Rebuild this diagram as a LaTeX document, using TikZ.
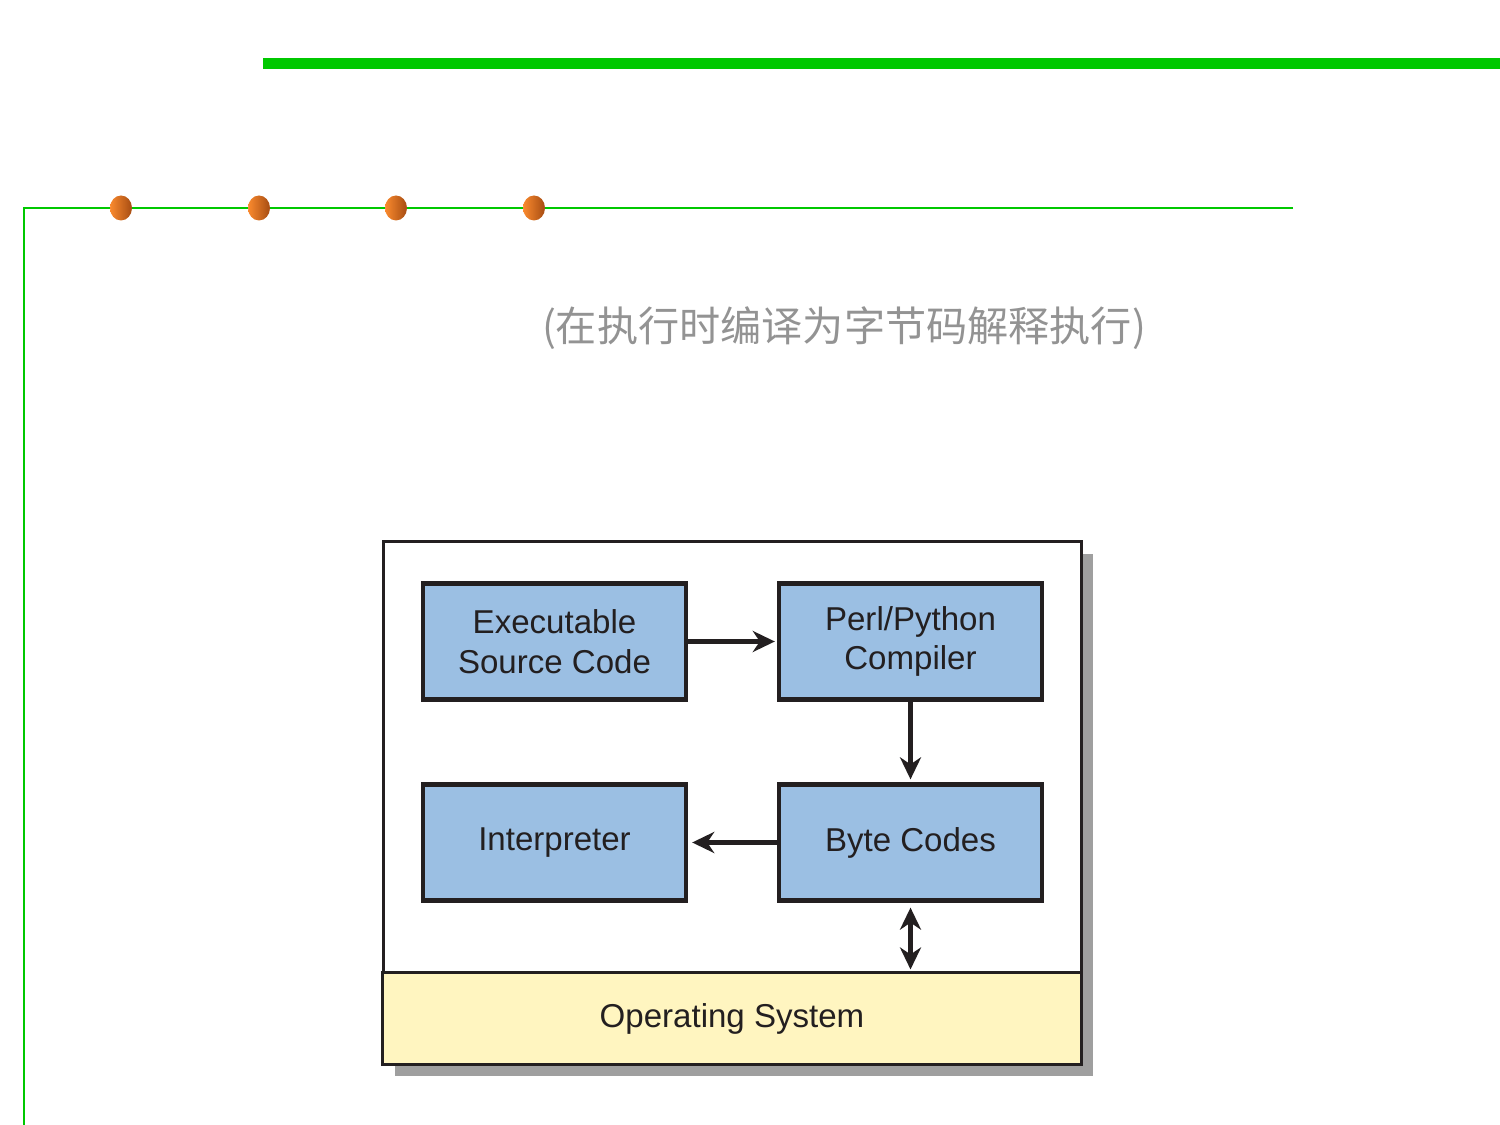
\documentclass[tikz,border=0pt]{standalone}
\usepackage{fontspec}
\setmainfont{Liberation Sans}
\newfontfamily\cjk{Noto Sans CJK SC}
\usetikzlibrary{arrows.meta, positioning}
\definecolor{barGreen}{HTML}{00C800}
\definecolor{boxBlue}{HTML}{9BBFE3}
\definecolor{osYellow}{HTML}{FFF5C0}
\definecolor{inkDark}{HTML}{231F20}
\definecolor{dotLight}{HTML}{FA8A2E}
\definecolor{dotDark}{HTML}{A64C12}
\tikzset{
  stage/.style={draw=inkDark, fill=boxBlue, line width=0.042cm, minimum width=2.63cm,
    minimum height=1.16cm, align=center, text=inkDark, font=\fontsize{9.4}{11.3}\selectfont},
  flow/.style={draw=inkDark, line width=0.042cm, -{Stealth[length=0.22cm, width=0.21cm, inset=0.07cm]}},
}

\begin{document}
\begin{tikzpicture}[x=0.01cm, y=-0.01cm]
\useasboundingbox (0,0) rectangle (1500,1125);
% green rules
\draw[barGreen, line width=0.11cm] (263,63.5) -- (1500,63.5);
\draw[barGreen, line width=0.02cm] (1293,208) -- (24,208) -- (24,1125);
\foreach \x in {121,259,396,534}
  \shade[left color=dotLight, right color=dotDark] (\x,208) ellipse (11 and 12.5);
\node[text=gray!85, font=\cjk\fontsize{11.7}{13}\selectfont] (title) at (844,328) {(在执行时编译为字节码解释执行)};
% outer frame
\fill[gray!75] (395,554) rectangle (1093,1076);
\draw[inkDark, fill=white, line width=0.03cm] (383,542) rectangle (1081,1064);
\node[draw=inkDark, fill=osYellow, line width=0.03cm, minimum width=6.98cm, minimum height=0.91cm,
  text=inkDark, font=\fontsize{9.4}{11.3}\selectfont] (os) at (732,1018.5) {Operating System};
\node[stage] (src) at (554.5,641.5) {Executable\\Source Code};
\node[stage] (comp) at (910.5,641.5) {Perl/Python\\Compiler};
\node[stage] (interp) at (554.5,842.5) {Interpreter};
\node[stage] (bytes) at (910.5,842.5) {Byte Codes};
\draw[flow, shorten >=0.02cm] (src) -- (comp);
\draw[flow, shorten >=0.03cm] (comp) -- (bytes);
\draw[flow, shorten >=0.04cm] (bytes) -- (interp);
\draw[flow, {Stealth[length=0.22cm, width=0.21cm, inset=0.07cm]}-{Stealth[length=0.22cm, width=0.21cm, inset=0.07cm]},
  shorten <=0.05cm, shorten >=0.02cm] (bytes.south) -- (bytes.south |- os.north);
\end{tikzpicture}
\end{document}
